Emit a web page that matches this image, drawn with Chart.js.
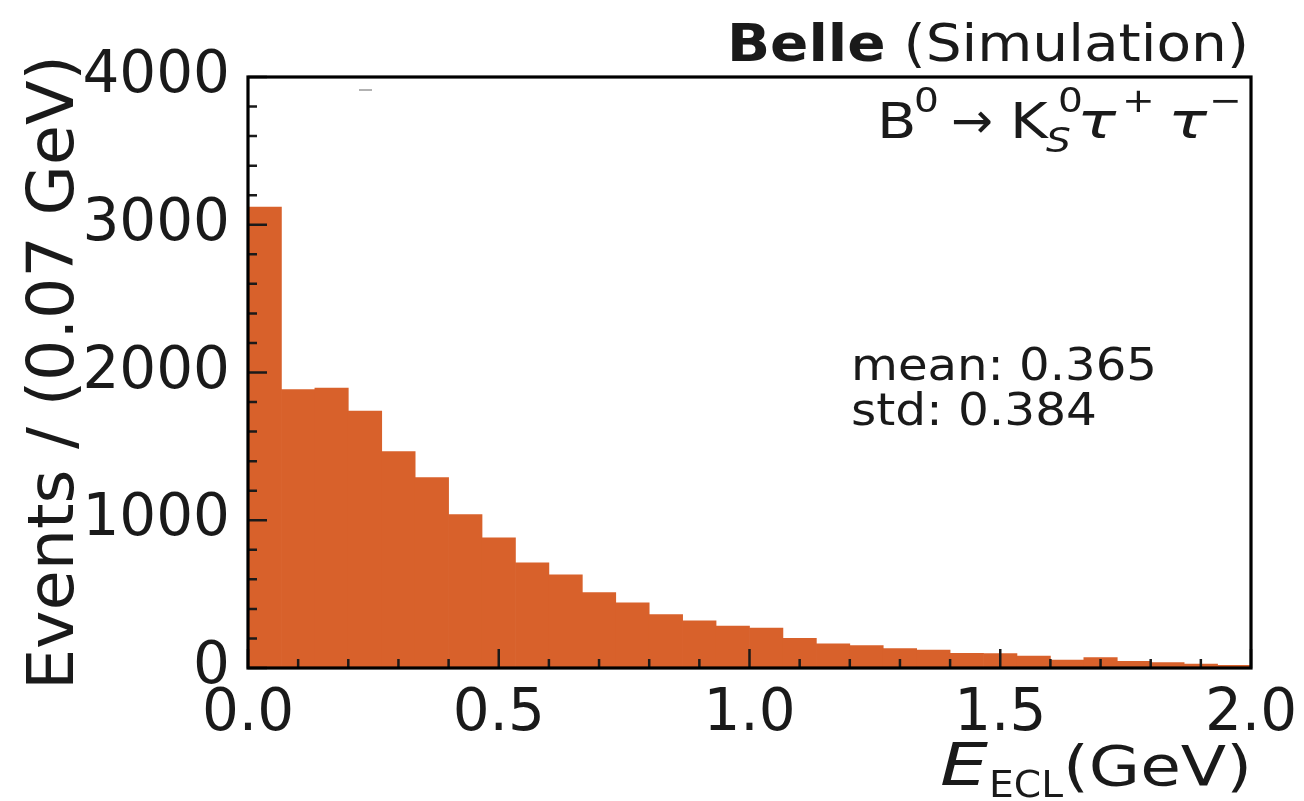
<!DOCTYPE html>
<html>
<head>
<meta charset="utf-8">
<script src="https://cdn.jsdelivr.net/npm/chart.js@4/dist/chart.umd.min.js"></script>
<style>
  html, body { margin: 0; padding: 0; background: #fff; }
</style>
</head>
<body>
<canvas id="myChart" width="1304" height="801"></canvas>
<script>
// histogram binning
const binLow = 0.0;
const binHigh = 2.0;
const nBins = 30;
// events per bin
const counts = [3120, 1885, 1894, 1739, 1464, 1288, 1038, 881, 712, 631,
  511, 441, 362, 319, 284, 270, 201, 164, 151, 132,
  122, 99, 98, 81, 54, 70, 45, 36, 27, 18];
const xTicks = [0.0, 0.5, 1.0, 1.5, 2.0];
const yTicks = [0, 1000, 2000, 3000, 4000];
const statsLines = ['mean: 0.365', 'std: 0.384'];

const FONT = '"DejaVu Sans", sans-serif';
const INK = '#1a1a1a';
const binW = (binHigh - binLow) / nBins;

// draw text, optionally squeezed/stretched to a given width or by a factor
function drawText(ctx, s, font, x, y, opts = {}) {
  ctx.save();
  ctx.font = font;
  ctx.fillStyle = INK;
  ctx.textBaseline = 'alphabetic';
  ctx.textAlign = 'left';
  let sx = opts.sx || 1;
  if (opts.width) sx = opts.width / ctx.measureText(s).width;
  ctx.translate(x, y);
  if (opts.rotate) ctx.rotate(opts.rotate);
  ctx.scale(sx, 1);
  ctx.fillText(s, 0, 0);
  ctx.restore();
}

const decorations = {
  id: 'decorations',
  afterDraw(chart) {
    const ctx = chart.ctx;
    const a = chart.chartArea;
    const xs = chart.scales.x, ys = chart.scales.y;

    // inward ticks
    ctx.save();
    ctx.strokeStyle = INK;
    ctx.lineWidth = 2.5;
    ctx.beginPath();
    for (let k = 0; k <= 20; k++) {
      const px = xs.getPixelForValue(k * 0.1);
      const len = (k % 5 === 0) ? 19 : 9;
      ctx.moveTo(px, a.bottom);
      ctx.lineTo(px, a.bottom - len);
    }
    for (let v = 0; v <= 4000; v += 200) {
      const py = ys.getPixelForValue(v);
      const len = (v % 1000 === 0) ? 19 : 9;
      ctx.moveTo(a.left, py);
      ctx.lineTo(a.left + len, py);
    }
    ctx.stroke();

    // frame
    ctx.strokeStyle = '#000';
    ctx.lineWidth = 3.2;
    ctx.strokeRect(a.left, a.top, a.right - a.left, a.bottom - a.top);

    // stray legend dash
    ctx.strokeStyle = '#999';
    ctx.lineWidth = 1.5;
    ctx.beginPath();
    ctx.moveTo(359, 90);
    ctx.lineTo(372, 90);
    ctx.stroke();
    ctx.restore();

    // header
    ctx.save();
    ctx.font = 'bold 52px ' + FONT;
    const wB = ctx.measureText('Belle').width;
    ctx.font = '52px ' + FONT;
    const wS = ctx.measureText(' (Simulation)').width;
    ctx.restore();
    const sxH = 522 / (wB + wS);
    drawText(ctx, 'Belle', 'bold 52px ' + FONT, 727, 61, { width: wB * sxH });
    drawText(ctx, ' (Simulation)', '52px ' + FONT, 727 + wB * sxH, 61, { width: wS * sxH });

    // decay channel
    const k = 1.15;
    drawText(ctx, 'B', '50px ' + FONT, 877, 138, { sx: k });
    drawText(ctx, '0', '34px ' + FONT, 914, 112, { sx: k });
    drawText(ctx, '\u2192', '50px ' + FONT, 951, 138);
    drawText(ctx, 'K', '50px ' + FONT, 1010, 138, { sx: k });
    drawText(ctx, 'S', 'italic 34px ' + FONT, 1046, 152, { sx: k });
    drawText(ctx, '0', '34px ' + FONT, 1058, 112, { sx: k });
    drawText(ctx, '\u03c4', 'italic 50px ' + FONT, 1077, 138, { sx: 1.3 });
    drawText(ctx, '+', '34px ' + FONT, 1122, 112, { sx: k });
    drawText(ctx, '\u03c4', 'italic 50px ' + FONT, 1168, 138, { sx: 1.3 });
    drawText(ctx, '\u2212', '34px ' + FONT, 1209, 112, { sx: k });

    // stats box
    drawText(ctx, statsLines[0], '44px ' + FONT, 851, 380, { width: 306 });
    drawText(ctx, statsLines[1], '44px ' + FONT, 851, 425, { width: 246 });

    // x title
    drawText(ctx, 'E', 'italic 58px ' + FONT, 940, 785, { width: 48 });
    drawText(ctx, 'ECL', '38px ' + FONT, 989, 797, { width: 74 });
    drawText(ctx, '(GeV)', '55px ' + FONT, 1063, 785, { width: 189 });

    // y title
    drawText(ctx, 'Events / (0.07 GeV)', '64px ' + FONT, 73, 690, { width: 635, rotate: -Math.PI / 2 });
  }
};

const ctx = document.getElementById('myChart').getContext('2d');
new Chart(ctx, {
  type: 'bar',
  data: {
    datasets: [{
      data: counts.map((c, i) => ({ x: binLow + (i + 0.5) * binW, y: c })),
      backgroundColor: '#d8612b',
      borderWidth: 0,
      barPercentage: 1.0,
      categoryPercentage: 1.0
    }]
  },
  options: {
    responsive: false,
    animation: false,
    layout: { padding: { top: 77, right: 53, left: 0, bottom: 0 } },
    plugins: { legend: { display: false }, tooltip: { enabled: false } },
    scales: {
      x: {
        type: 'linear',
        min: binLow,
        max: binHigh,
        offset: false,
        grid: { display: false, drawTicks: false },
        border: { display: false },
        afterBuildTicks: s => { s.ticks = xTicks.map(v => ({ value: v })); },
        afterFit: s => {
          s.height = 133;
          s.paddingLeft = 0;
          s.paddingRight = 0;
        },
        ticks: {
          autoSkip: false,
          maxRotation: 0,
          padding: 12,
          color: INK,
          font: { family: FONT, size: 58 },
          callback: v => v.toFixed(1)
        }
      },
      y: {
        min: 0,
        max: 4000,
        grid: { display: false, drawTicks: false },
        border: { display: false },
        afterBuildTicks: s => { s.ticks = yTicks.map(v => ({ value: v })); },
        afterFit: s => {
          s.width = 248;
          s.paddingTop = 0;
          s.paddingBottom = 0;
        },
        ticks: {
          padding: 18,
          color: INK,
          font: { family: FONT, size: 58 },
          callback: v => String(v)
        }
      }
    }
  },
  plugins: [decorations]
});
</script>
</body>
</html>
